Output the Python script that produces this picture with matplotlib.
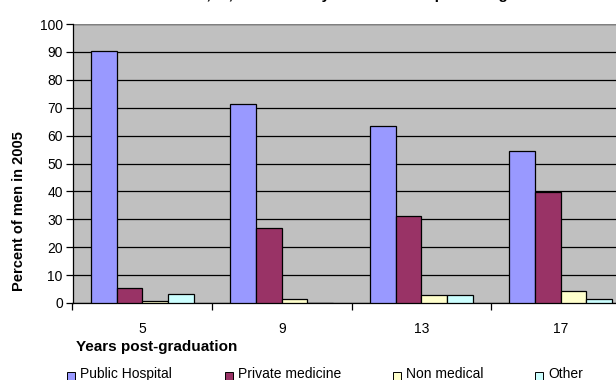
import matplotlib.pyplot as plt
from matplotlib.patches import Rectangle
import numpy as np

plt.rcParams['font.family'] = ['Liberation Sans', 'DejaVu Sans']

years = ['5', '9', '13', '17']
series = ['Public Hospital', 'Private medicine', 'Non medical', 'Other']
public_hospital = [90.5, 71.5, 63.5, 54.5]
private_medicine = [5.2, 27.0, 31.2, 39.7]
non_medical = [0.8, 1.3, 2.7, 4.2]
other = [3.2, 0.0, 2.7, 1.3]
colors = ['#9999FF', '#993366', '#FFFFCC', '#CCFFFF']

W, H = 616, 380
fig = plt.figure(figsize=(W / 100, H / 100), dpi=100)
ax = fig.add_axes([72.5 / W, (H - 303) / H, 558 / W, 279 / H])
ax.set_facecolor('#C0C0C0')

x = np.arange(len(years))
bw = 0.184
values = [public_hospital, private_medicine, non_medical, other]
for i, (vals, c) in enumerate(zip(values, colors)):
    ax.bar(x + (i - 1.5) * bw, vals, bw, color=c, edgecolor='black',
           linewidth=0.9, zorder=3)

ax.set_xlim(-0.5, 3.5)
ax.set_ylim(0, 100)
ax.set_yticks(range(0, 101, 10))
ax.yaxis.grid(True, color='black', linewidth=0.9, zorder=1)
ax.tick_params(axis='y', labelsize=10, length=5, width=0.9, pad=2)

ax.set_xticks(x)
ax.set_xticklabels(years)
ax.set_xticks(np.arange(-0.5, 3.6, 1), minor=True)
ax.tick_params(axis='x', which='major', length=0, labelsize=10, pad=14)
ax.tick_params(axis='x', which='minor', length=5, width=0.9, direction='out')

for s in ['top', 'right']:
    ax.spines[s].set_visible(False)
for s in ['left', 'bottom']:
    ax.spines[s].set_linewidth(0.9)
ax.axhline(100, color='#808080', linewidth=1, zorder=2)

# axis titles sit where the spreadsheet placed them, not centred on the axes
fig.text(19 / W, 1 - 211 / H, 'Percent of men in 2005', fontsize=10.5,
         fontweight='bold', rotation=90, va='center', ha='center')
fig.text(76 / W, 1 - 347 / H, 'Years post-graduation', fontsize=11,
         fontweight='bold', va='center', ha='left')

fig.text(0.555, 1 + 1.5 / H, 'Men, %, main activity and sector of practising',
         fontsize=11, fontweight='bold', ha='center', va='baseline')

# legend row along the bottom edge
leg_x = [67, 225, 393, 535]
for lx, lab, c in zip(leg_x, series, colors):
    fig.patches.append(Rectangle((lx / W, 1 - 380 / H), 8 / W, 8 / H,
                                 transform=fig.transFigure, facecolor=c,
                                 edgecolor='black', linewidth=0.7))
    fig.text((lx + 13) / W, 1 - 374 / H, lab, fontsize=10, va='center', ha='left')

fig.savefig('out.png', dpi=100)
